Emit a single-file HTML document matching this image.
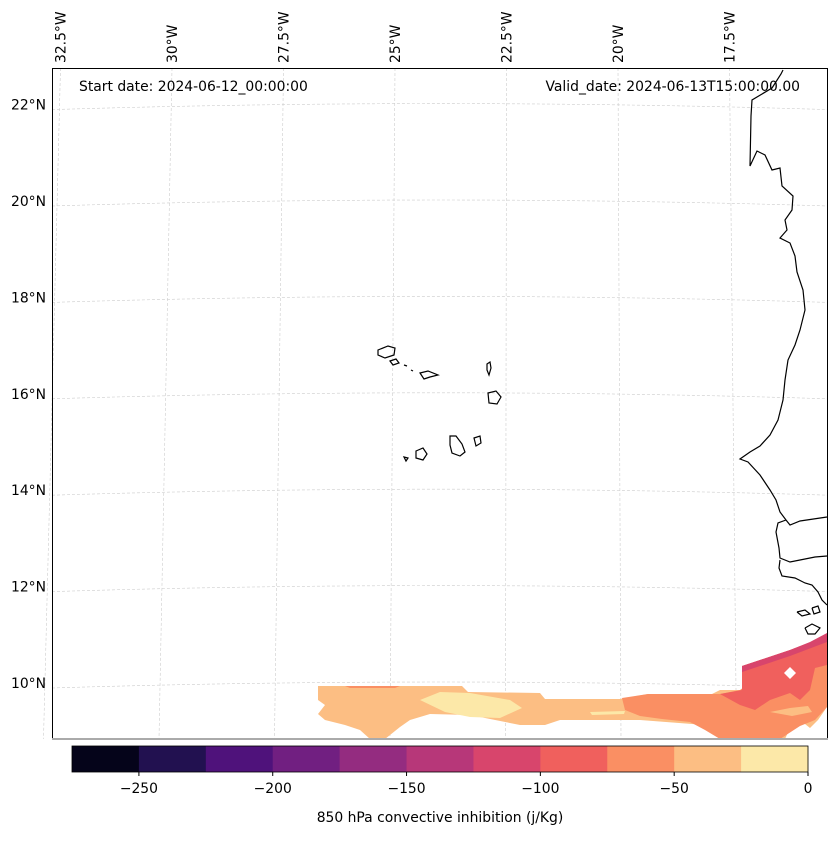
<!DOCTYPE html>
<html><head><meta charset="utf-8"><style>
body{margin:0;background:#fff;font-family:"Liberation Sans","DejaVu Sans",sans-serif}
svg text{font-family:"DejaVu Sans","Liberation Sans",sans-serif;font-size:13.9px;fill:#000}
</style></head><body>
<svg id="chart" width="837" height="836" xmlns="http://www.w3.org/2000/svg">
<g id="grid" stroke="#ccc" stroke-width="0.6" stroke-dasharray="3,2" fill="none"></g>
<g id="data" stroke="none">
  <polygon fill="#fcbe83" points="318,686 462,686 468,692 540,693 545,699 620,699 648,694 712,694 720,690 742,690 742,666 760,660 790,650 827,636 827,707 818,720 810,728 800,720 790,728 785,739 760,739 740,730 705,725 640,720 560,720 545,725 520,725 470,715 430,714 410,720 400,727 385,739 370,739 360,730 345,725 325,720 318,714 325,705 318,700"/>
  <polygon fill="#fce8a8" points="420,700 440,692 470,693 510,700 522,708 500,718 470,717 445,712"/>
  <polygon fill="#fce8a8" points="590,712 625,711 624,714 592,715"/>
  <polygon fill="#fa8f63" points="622,698 648,694 720,694 740,690 760,675 790,668 827,665 827,707 815,720 800,726 780,739 720,739 705,730 690,722 662,719 640,716 625,710"/>
  <polygon fill="#fcbe83" points="770,712 790,708 808,706 812,712 792,716"/>
  <polygon fill="#f0605d" points="720,694 742,690 742,666 760,660 790,650 827,636 827,665 815,668 810,690 800,700 790,693 770,700 755,710 740,705"/>
  <polygon fill="#d8456c" points="742,666 742,672 760,666 790,656 827,642 827,633 810,642 790,650 760,660"/>
  <polygon fill="#fff" points="790,667 796,673 790,679 784,673"/>
  <polygon fill="#fa8f63" points="345,686 400,686 395,688 350,688"/>
</g>
<g id="coast" stroke="#000" stroke-width="1.2" fill="none">
  <polyline points="783,70 781,74 772,88 752,100 751,116 750,166 757,151 765,155 772,170 780,168 782,186 793,196 792,210 785,220 787,230 780,238 790,243 795,256 797,272 803,290 805,310 800,330 795,345 788,360 785,380 783,400 778,420 770,435 760,446 750,452 740,459 748,462 760,475 770,490 776,500 780,512 786,520 790,525 800,521 827,517"/>
  <polyline points="786,520 778,523 776,532 779,548 780,558 790,562 800,560 815,557 827,556"/>
  <polyline points="780,560 779,568 782,576 795,578 805,583 812,585 818,592 822,600 827,605"/>
  <polyline points="797,612 805,610 810,614 802,616 797,612"/>
  <polyline points="812,608 818,606 820,612 814,614 812,608"/>
  <polyline points="805,628 812,624 820,628 815,634 808,634 805,628"/>
  <path d="M378,350 L388,346 395,348 394,355 385,358 378,355Z"/>
  <path d="M390,361 L396,359 399,363 393,365Z"/>
  <path d="M404,365 L407,366"/>
  <path d="M411,370 L413,371"/>
  <path d="M420,373 L428,371 438,375 430,377 424,379Z"/>
  <path d="M487,364 L490,362 491,368 489,375 487,370Z"/>
  <path d="M488,393 L496,391 501,397 497,404 489,403Z"/>
  <path d="M474,438 L480,436 481,443 476,446Z"/>
  <path d="M450,436 L456,436 462,444 465,452 460,456 452,453 450,445Z"/>
  <path d="M416,451 L423,448 427,454 423,460 416,458Z"/>
  <path d="M404,457 L408,458 406,461Z"/>
</g>
<rect x="52.5" y="68.5" width="775" height="671" fill="none" stroke="#000" stroke-width="1"/>
<rect x="52" y="738" width="776" height="2" fill="#aaa"/>
<g id="labels"></g>
<text x="79" y="91">Start date: 2024-06-12_00:00:00</text>
<text x="800" y="91" text-anchor="end">Valid_date: 2024-06-13T15:00:00.00</text>
<g id="cbar"></g>
<text x="440" y="822" text-anchor="middle">850 hPa convective inhibition (j/Kg)</text>
</svg>
<script>
const levels=[-275,-250,-225,-200,-175,-150,-125,-100,-75,-50,-25,0];
const colors=["#05041a","#221150","#4f127b","#711f81","#942c80","#b73779","#d8456c","#f0605d","#fa8f63","#fcbe83","#fce8a8"];
const cbTicks=[-250,-200,-150,-100,-50,0];
const latVals=[22,20,18,16,14,12,10];
const lonVals=[32.5,30,27.5,25,22.5,20,17.5];
const NS="http://www.w3.org/2000/svg";
function mk(t,a,p){const e=document.createElementNS(NS,t);for(const k in a)e.setAttribute(k,a[k]);p.appendChild(e);return e;}
const cx0=72,cx1=808,cy=746,ch=26;
const xs=v=>cx0+(v-levels[0])/(levels[levels.length-1]-levels[0])*(cx1-cx0);
const cb=document.getElementById('cbar');
for(let i=0;i<colors.length;i++){
  const r=mk('rect',{x:xs(levels[i]),y:cy,width:xs(levels[i+1])-xs(levels[i])+0.5,height:ch,fill:colors[i]},cb);
  
  
}
const fr=mk('rect',{x:cx0,y:cy,width:cx1-cx0,height:ch,fill:'none',stroke:'#000','stroke-width':0.8},cb);


cbTicks.forEach(v=>{
  mk('line',{x1:xs(v),x2:xs(v),y1:cy+ch,y2:cy+ch+4,stroke:'#000'},cb);
  const t=mk('text',{x:xs(v),y:793,'text-anchor':'middle'},cb);
  t.textContent=(v<0?'\u2212'+(-v):v);
  
  
});
const g=document.getElementById('grid'),lb=document.getElementById('labels');
const latY=v=>684-(v-10)*48.2;
latVals.forEach(v=>{
  const y=latY(v);
  const p=mk('path',{d:`M52,${y+4} Q440,${y-8} 828,${y+4}`},g);
  
  
  const t=mk('text',{x:46,y:y+4,'text-anchor':'end'},lb);
  t.textContent=v+'\u00b0N';
  
  
});
const lonTop=v=>395+(25-v)*44.6;
const lonBot=v=>390+(25-v)*46.2;
lonVals.forEach(v=>{
  const x0=lonTop(v),x1=lonBot(v);
  const l=mk('line',{x1:x0,y1:68,x2:x1,y2:739},g);
  
  
  const t=mk('text',{x:x0+5,y:63,transform:`rotate(-90 ${x0+5} 63)`},lb);
  t.textContent=v+'\u00b0W';
  
  
});
</script>
</body></html>
